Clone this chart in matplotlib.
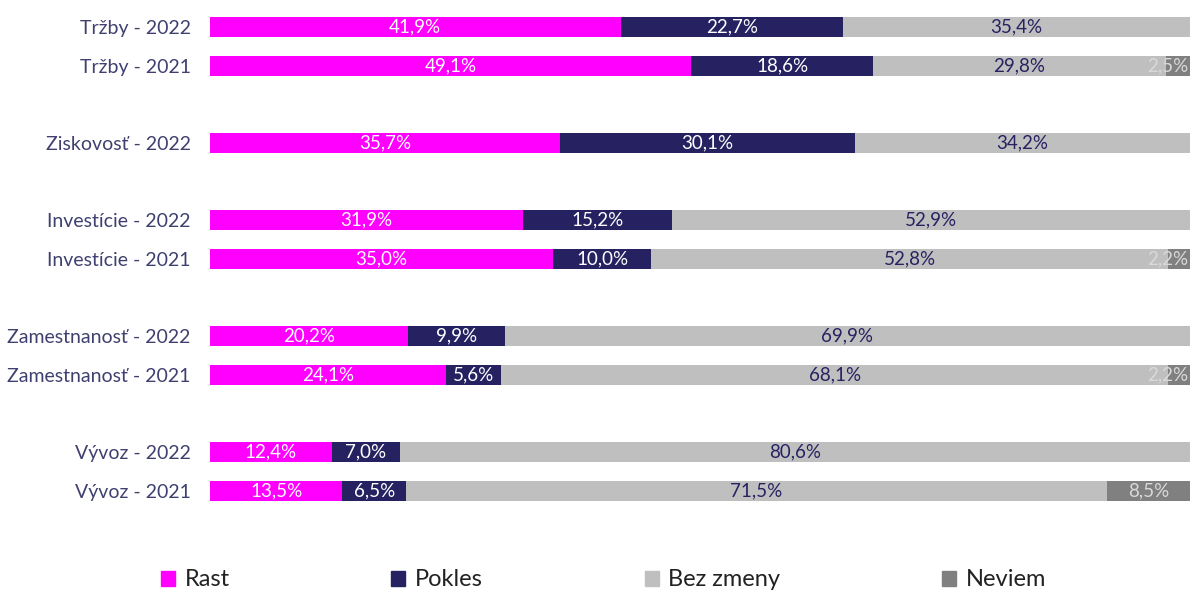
import matplotlib.pyplot as plt
import numpy as np
from matplotlib.patches import Patch

plt.rcParams['font.family'] = ['Lato', 'DejaVu Sans']

# data (None = row gap)
labels = ['Tržby - 2022', 'Tržby - 2021', None, 'Ziskovosť - 2022', None,
          'Investície - 2022', 'Investície - 2021', None,
          'Zamestnanosť - 2022', 'Zamestnanosť - 2021', None,
          'Vývoz - 2022', 'Vývoz - 2021']
rast = [41.9, 49.1, None, 35.7, None, 31.9, 35.0, None, 20.2, 24.1, None, 12.4, 13.5]
pokles = [22.7, 18.6, None, 30.1, None, 15.2, 10.0, None, 9.9, 5.6, None, 7.0, 6.5]
bez_zmeny = [35.4, 29.8, None, 34.2, None, 52.9, 52.8, None, 69.9, 68.1, None, 80.6, 71.5]
neviem = [0, 2.5, None, 0, None, 0, 2.2, None, 0, 2.2, None, 0, 8.5]

series = [('Rast', rast, '#FF00FF', 'white'),
          ('Pokles', pokles, '#262262', 'white'),
          ('Bez zmeny', bez_zmeny, '#BFBFBF', '#262262'),
          ('Neviem', neviem, '#808080', '#D9D9D9')]

fig = plt.figure(figsize=(11.9, 5.93), dpi=100)
ax = fig.add_axes([210/1190, 1 - 510.3/593, 980/1190, 502.6/593])

rows = [i for i, l in enumerate(labels) if l is not None]
left = np.zeros(len(rows))
for name, vals, col, tcol in series:
    v = np.array([vals[i] for i in rows], dtype=float)
    ax.barh(rows, v, left=left, height=0.52, color=col, label=name)
    for y, l, w in zip(rows, left, v):
        if w <= 0:
            continue
        txt = f'{w:.1f}%'.replace('.', ',')
        if l + w/2 > 97:
            # keep the small end labels inside the figure
            ax.text(99.8, y, txt, ha='right', va='center', color=tcol, fontsize=13.5)
        else:
            ax.text(l + w/2, y, txt, ha='center', va='center', color=tcol, fontsize=13.5)
    left += v

ax.set_xlim(0, 100)
ax.set_ylim(len(labels) - 0.5, -0.5)
ax.set_yticks(rows)
ax.set_yticklabels([labels[i] for i in rows], fontsize=14, color='#404070')
ax.tick_params(axis='y', length=0, pad=14)
ax.set_xticks([])
for s in ax.spines.values():
    s.set_visible(False)

handles = [Patch(color=c) for _, _, c, _ in series]
fig.legend(handles, [s[0] for s in series], loc='center', ncol=4,
           bbox_to_anchor=(0.507, 0.022), frameon=False, fontsize=17,
           handlelength=0.6, handleheight=0.6, handletextpad=0.4,
           columnspacing=6.85, labelcolor='#222222')

fig.savefig('out.png', dpi=100)
